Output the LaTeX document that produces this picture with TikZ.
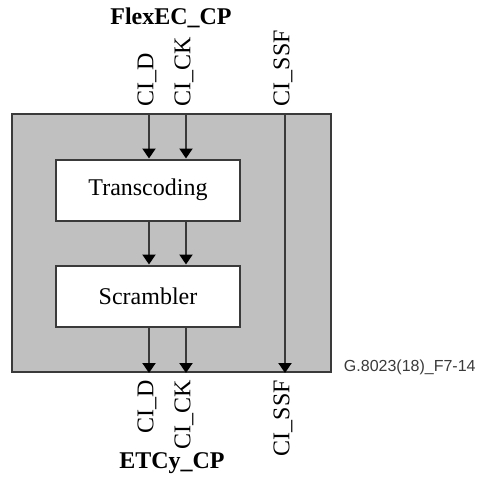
\documentclass[tikz,border=0pt]{standalone}
\usepackage{fontspec}
\setmainfont{Liberation Serif}
\newfontfamily\figidfont{Liberation Sans}
\usetikzlibrary{arrows.meta, positioning}
\definecolor{cgrey}{HTML}{C0C0C0}
\definecolor{cline}{HTML}{3A3A3A}
\tikzset{
  every picture/.style={font=\fontsize{12}{14}\selectfont, line width=1pt},
  fnbox/.style={draw=cline, fill=cgrey, minimum width=159.5pt, minimum height=129pt, inner sep=0pt},
  block/.style={draw=cline, fill=white, minimum width=92pt, minimum height=30.5pt, inner sep=0pt},
  sig/.style={-{Triangle[length=5pt, width=6.5pt, color=black]}, draw=cline},
  siglabel/.style={rotate=90, inner sep=0pt},
  cp/.style={font=\bfseries\fontsize{12}{14}\selectfont},
  figid/.style={font=\figidfont\fontsize{8}{10}\selectfont, text=cline, inner sep=0pt},
}

\begin{document}
\begin{tikzpicture}[x=0.5pt, y=-0.5pt]
  \useasboundingbox (0,0) rectangle (477,479);
  % function box and its two blocks
  \node[fnbox] (fn) at (171.5,243) {};
  \node[block] (trans) at (148,190) {Transcoding};
  \node[block] (scr) at (148,296) {Scrambler};
  % signal columns
  \coordinate (xd) at (149,0);
  \coordinate (xck) at (186,0);
  \coordinate (xssf) at (285,0);
  \foreach \c in {xd,xck} {
    \draw[sig] (fn.north -| \c) -- (trans.north -| \c);
    \draw[sig] (trans.south -| \c) -- (scr.north -| \c);
    \draw[sig] (scr.south -| \c) -- (fn.south -| \c);
  }
  \draw[sig] (fn.north -| xssf) -- (fn.south -| xssf);
  % labels above and below
  \foreach \c/\t in {xd/CI\_D, xck/CI\_CK, xssf/CI\_SSF} {
    \node[siglabel, anchor=west] at ([xshift=-1pt, yshift=3pt]fn.north -| \c) {\t};
    \node[siglabel, anchor=east] at ([xshift=-1pt, yshift=-3pt]fn.south -| \c) {\t};
  }
  \node[cp] (top) at (171,18) {FlexEC\_CP};
  \node[cp] (bottom) at (172,463) {ETCy\_CP};
  \node[figid, anchor=west] (id) at (343,367) {G.8023(18)\_F7-14};
\end{tikzpicture}
\end{document}
